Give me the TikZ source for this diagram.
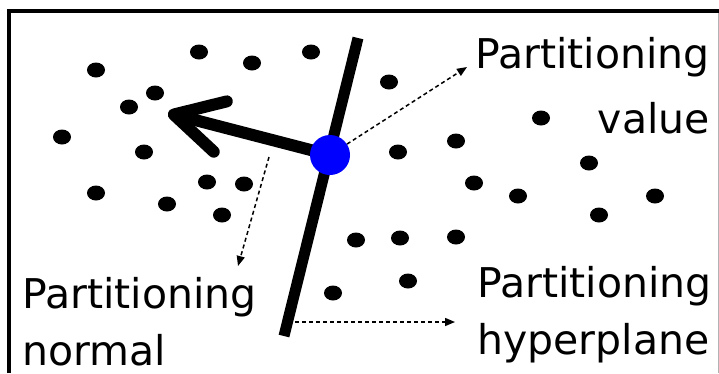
\documentclass[tikz,border=0pt]{standalone}
\usepackage{fontspec}
\setmainfont{DejaVu Sans}
\usetikzlibrary{arrows.meta}
\begin{document}
\begin{tikzpicture}[x=1pt,y=-1pt,
  lbl/.style={font=\fontsize{41}{57}\selectfont,inner sep=0pt},
  hint/.style={dash pattern=on 4pt off 3pt,line width=1.5pt,-{Triangle[length=10pt,width=8pt]}},
  point/.style={circle,fill=blue,minimum size=40pt,inner sep=0pt}]
\useasboundingbox (0,0) rectangle (719,373);
\draw[line width=4pt] (8.7,373) -- (8.7,11.3) -- (719,11.3);
\draw[gray!60,line width=1pt] (718.5,13) -- (718.5,373);
\foreach \x/\y in {96/70,199/52,252/63,311/52,155/93,129/107,62/137,144/152,
  96/193,167/204,207/182,244/184,222/215,389/82,541/118,456/141,398/152,
  589/163,474/183,518/196,655/196,599/215,356/240,400/238,456/237,333/293,408/281} {
  \fill (\x,\y) ellipse (9 and 7.5);
}
\draw[line width=11pt] (284,336) -- (358,38);
\coordinate (c) at (330,155);
\coordinate (ntip) at (168,113);
\draw[line width=12pt,-{Straight Barb[length=48pt,width=52pt,round]}] (c) -- (ntip);
\node[point] (pv) at (c) {};
\node[lbl,align=right,anchor=base east] (valuelbl) at (710,133) {Partitioning\\[8pt]value};
\node[lbl,align=left,anchor=base west] (normallbl) at (22,365) {Partitioning\\normal};
\node[lbl,align=left,anchor=base west] (planelbl) at (477,354) {Partitioning\\hyperplane};
\coordinate (vtip) at (467,67);
\coordinate (nfrom) at (269,157);
\coordinate (ntip2) at (238,266);
\coordinate (hfrom) at (295,322);
\coordinate (htip) at (455,322);
\draw[hint] (pv) -- (vtip);
\draw[hint] (nfrom) -- (ntip2);
\draw[hint] (hfrom) -- (htip);
\end{tikzpicture}
\end{document}
